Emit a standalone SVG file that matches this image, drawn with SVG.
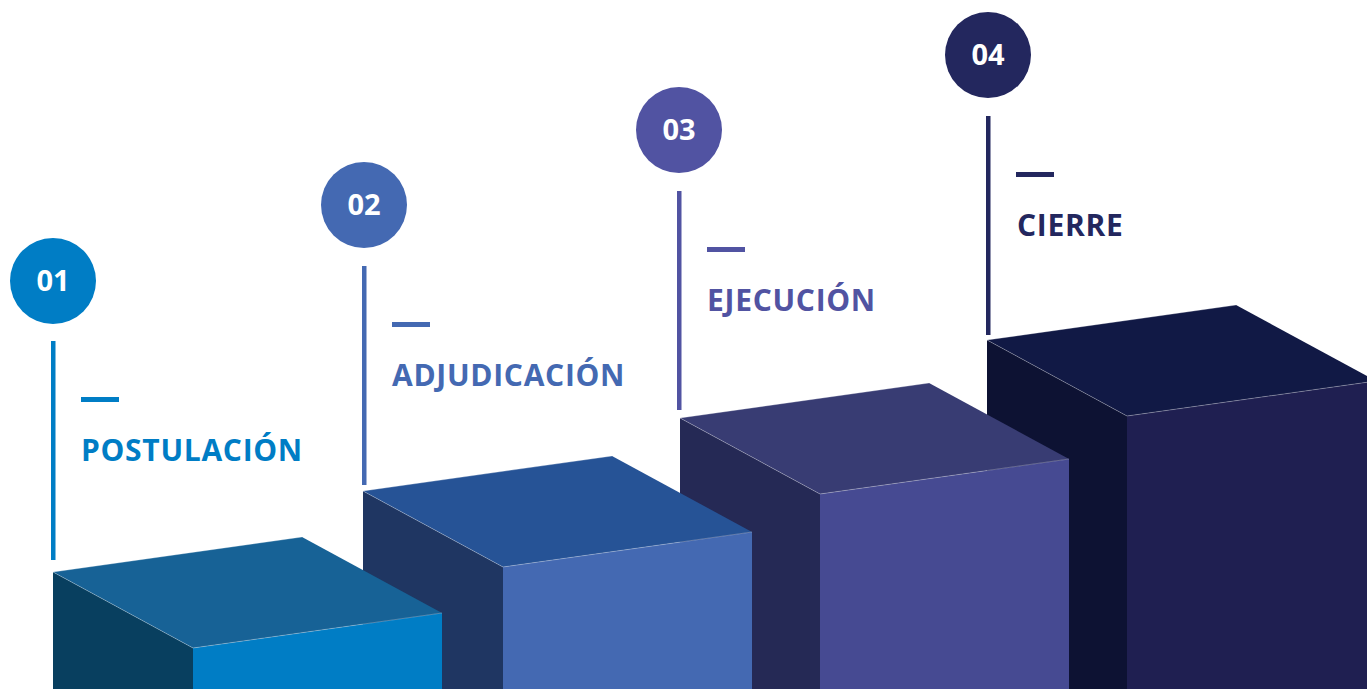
<svg xmlns="http://www.w3.org/2000/svg" width="1367" height="689" viewBox="0 0 1367 689">
<style>
.num{font-family:"Open Sans","Liberation Sans",sans-serif;font-weight:700;font-size:29px;fill:#fff;text-anchor:middle}
.lbl{font-family:"Open Sans","Liberation Sans",sans-serif;font-weight:700;font-size:30px;letter-spacing:0.7px}
.edge{fill:none;stroke:#ffffff;stroke-opacity:0.35;stroke-width:0.8}
</style>
<rect width="1367" height="689" fill="#fff"/>
<g id="cube4">
<polygon points="987,340 1127,416 1127,689 987,689" fill="#0D1233"/>
<polygon points="1127,416 1376,381 1376,689 1127,689" fill="#1F1F51"/>
<polygon points="987,340 1236,305 1376,381 1127,416" fill="#111945"/>
<polyline class="edge" points="987,340 1236,305"/><polyline class="edge" points="987,340 1127,416 1376,381"/>
</g>
<g id="cube3">
<polygon points="680,418 820,494 820,689 680,689" fill="#252955"/>
<polygon points="820,494 1069,459 1069,689 820,689" fill="#464A92"/>
<polygon points="680,418 929,383 1069,459 820,494" fill="#383C73"/>
<polyline class="edge" points="680,418 929,383"/><polyline class="edge" points="680,418 820,494 1069,459"/>
</g>
<g id="cube2">
<polygon points="363,491 503,567 503,689 363,689" fill="#1F3662"/>
<polygon points="503,567 752,532 752,689 503,689" fill="#4469B2"/>
<polygon points="363,491 612,456 752,532 503,567" fill="#265396"/>
<polyline class="edge" points="363,491 612,456"/><polyline class="edge" points="363,491 503,567 752,532"/>
</g>
<g id="cube1">
<polygon points="53,572 193,648 193,689 53,689" fill="#083F5F"/>
<polygon points="193,648 442,613 442,689 193,689" fill="#007DC5"/>
<polygon points="53,572 302,537 442,613 193,648" fill="#176296"/>
<polyline class="edge" points="53,572 302,537"/><polyline class="edge" points="53,572 193,648 442,613"/>
</g>
<g id="step1">
<circle cx="53" cy="281" r="43" fill="#007DC5"/>
<text class="num" x="53" y="291">01</text>
<rect x="51" y="341" width="4.5" height="219" fill="#007DC5"/>
<rect x="81" y="397" width="38" height="5" fill="#007DC5"/>
<text class="lbl" x="81" y="461" fill="#007DC5">POSTULACIÓN</text>
</g>
<g id="step2">
<circle cx="364" cy="205" r="43" fill="#4469B2"/>
<text class="num" x="364" y="215">02</text>
<rect x="362" y="266" width="4.5" height="219" fill="#4469B2"/>
<rect x="392" y="322" width="38" height="5" fill="#4469B2"/>
<text class="lbl" x="392" y="386" fill="#4469B2">ADJUDICACIÓN</text>
</g>
<g id="step3">
<circle cx="679" cy="130" r="43" fill="#5153A2"/>
<text class="num" x="679" y="140">03</text>
<rect x="677" y="191" width="4.5" height="219" fill="#5153A2"/>
<rect x="707" y="247" width="38" height="5" fill="#5153A2"/>
<text class="lbl" x="707" y="311" fill="#5153A2">EJECUCIÓN</text>
</g>
<g id="step4">
<circle cx="988" cy="55" r="43" fill="#23275E"/>
<text class="num" x="988" y="65">04</text>
<rect x="986" y="116" width="4.5" height="219" fill="#23275E"/>
<rect x="1016" y="172" width="38" height="5" fill="#23275E"/>
<text class="lbl" x="1017" y="236" fill="#23275E">CIERRE</text>
</g>
<g id="connectors"></g>
</svg>
